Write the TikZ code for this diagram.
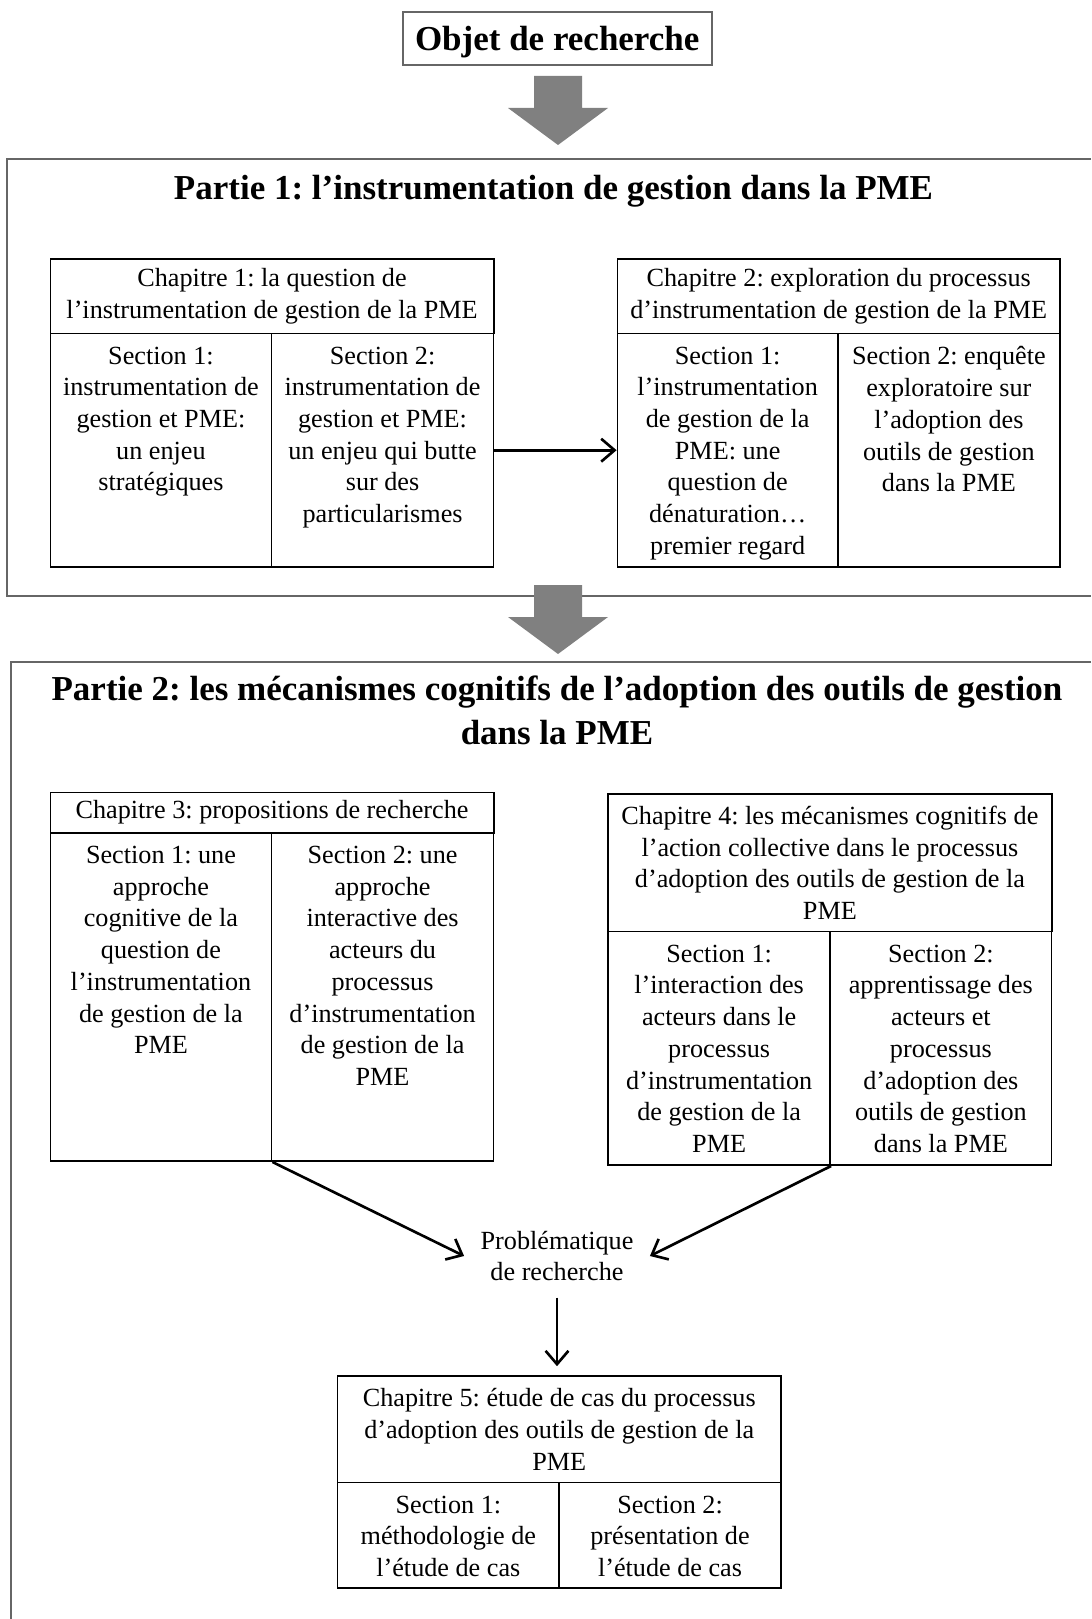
\documentclass[tikz,border=0pt]{standalone}
\usepackage{fontspec}
\setmainfont{Liberation Serif}
\usetikzlibrary{positioning,arrows.meta}
\frenchspacing

\begin{document}
\begin{tikzpicture}[x=0.01cm,y=-0.01cm]
\tikzset{
  cell/.style={draw,line width=0.45pt,inner sep=0pt,anchor=north west,align=center,font=\fontsize{7.45}{9.02}\selectfont},
  txt/.style={inner sep=0pt,align=center,font=\fontsize{7.45}{9.02}\selectfont},
  titre/.style={inner sep=0pt,align=center,font=\fontsize{9.95}{12.4}\selectfont\bfseries},
  cadre/.style={draw=black!60,line width=0.6pt},
  fleche/.style={-{Straight Barb[length=3.8pt,width=6.5pt]},line width=0.75pt},
  grosse/.pic={\fill[gray] (-24,0) -- (24,0) -- (24,32) -- (50,32) -- (0,69) -- (-50,32) -- (-24,32) -- cycle;}
}
\useasboundingbox[fill=white] (0,0) rectangle (1091,1619);

% objet
\node[titre,draw=black!60,line width=0.6pt,text depth=0pt,minimum width=3.09cm,minimum height=0.533cm] (objet) at (557.2,38.4) {Objet de recherche};

% partie 1
\draw[cadre] (1091,159.3) -- (7.2,159.3) -- (7.2,595.7) -- (1091,595.7);
\node[titre] (p1) at (553.5,191) {Partie 1: l’instrumentation de gestion dans la PME};
\pic at (558,76) {grosse};

\node[cell,minimum width=4.432cm,minimum height=0.744cm] (c1h) at (49.5,258.3) {Chapitre 1: la question de\\l’instrumentation de gestion de la PME};
\node[cell,minimum width=2.212cm,minimum height=2.333cm] (c1a) at (49.5,332.7) {};
\node[cell,minimum width=2.22cm,minimum height=2.333cm] (c1b) at (270.7,332.7) {};
\node[txt,below=3.8pt of c1a.north] (t1a) {Section 1:\\instrumentation de\\gestion et PME:\\un enjeu\\stratégiques};
\node[txt,below=3.8pt of c1b.north] (t1b) {Section 2:\\instrumentation de\\gestion et PME:\\un enjeu qui butte\\sur des\\particularismes};

\node[cell,minimum width=4.424cm,minimum height=0.744cm] (c2h) at (616.6,258.3) {Chapitre 2: exploration du processus\\d’instrumentation de gestion de la PME};
\node[cell,minimum width=2.204cm,minimum height=2.333cm] (c2a) at (616.6,332.7) {};
\node[cell,minimum width=2.22cm,minimum height=2.333cm] (c2b) at (837,332.7) {};
\node[txt,below=3.8pt of c2a.north] (t2a) {Section 1:\\l’instrumentation\\de gestion de la\\PME: une\\question de\\dénaturation…\\premier regard};
\node[txt,below=3.8pt of c2b.north] (t2b) {Section 2: enquête\\exploratoire sur\\l’adoption des\\outils de gestion\\dans la PME};

\draw[fleche] (c1b) -- (c2a);

% partie 2
\draw[cadre] (1091,661.7) -- (11,661.7) -- (11,1619);
\pic at (558,585) {grosse};
\node[titre] (p2) at (557,710.5) {Partie 2: les mécanismes cognitifs de l’adoption des outils de gestion\\dans la PME};

\node[cell,minimum width=4.432cm,minimum height=0.403cm] (c3h) at (49.5,791.7) {Chapitre 3: propositions de recherche};
\node[cell,minimum width=2.212cm,minimum height=3.282cm] (c3a) at (49.5,832) {};
\node[cell,minimum width=2.22cm,minimum height=3.282cm] (c3b) at (270.7,832) {};
\node[txt,below=3.8pt of c3a.north] (t3a) {Section 1: une\\approche\\cognitive de la\\question de\\l’instrumentation\\de gestion de la\\PME};
\node[txt,below=3.8pt of c3b.north] (t3b) {Section 2: une\\approche\\interactive des\\acteurs du\\processus\\d’instrumentation\\de gestion de la\\PME};

\node[cell,minimum width=4.434cm,minimum height=1.374cm] (c4h) at (607.3,793.3) {Chapitre 4: les mécanismes cognitifs de\\l’action collective dans le processus\\d’adoption des outils de gestion de la\\PME};
\node[cell,minimum width=2.22cm,minimum height=2.336cm] (c4a) at (607.3,930.7) {};
\node[cell,minimum width=2.214cm,minimum height=2.336cm] (c4b) at (829.3,930.7) {};
\node[txt,below=3.8pt of c4a.north] (t4a) {Section 1:\\l’interaction des\\acteurs dans le\\processus\\d’instrumentation\\de gestion de la\\PME};
\node[txt,below=3.8pt of c4b.north] (t4b) {Section 2:\\apprentissage des\\acteurs et\\processus\\d’adoption des\\outils de gestion\\dans la PME};

\node[txt,inner sep=4.5pt] (prob) at (557,1256) {Problématique\\de recherche};
\draw[fleche] (c3a.south east) -- (prob.west);
\draw[fleche] (c4a.south east) -- (prob.east);

\node[cell,minimum width=4.433cm,minimum height=1.067cm] (c5h) at (336.7,1375) {Chapitre 5: étude de cas du processus\\d’adoption des outils de gestion de la\\PME};
\node[cell,minimum width=2.216cm,minimum height=1.056cm] (c5a) at (336.7,1481.7) {};
\node[cell,minimum width=2.217cm,minimum height=1.056cm] (c5b) at (558.3,1481.7) {};
\node[txt,below=3.8pt of c5a.north] (t5a) {Section 1:\\méthodologie de\\l’étude de cas};
\node[txt,below=3.8pt of c5b.north] (t5b) {Section 2:\\présentation de\\l’étude de cas};

\draw[fleche,shorten >=2.5pt] (prob.south) -- (prob.south |- c5h.north);
\end{tikzpicture}
\end{document}
